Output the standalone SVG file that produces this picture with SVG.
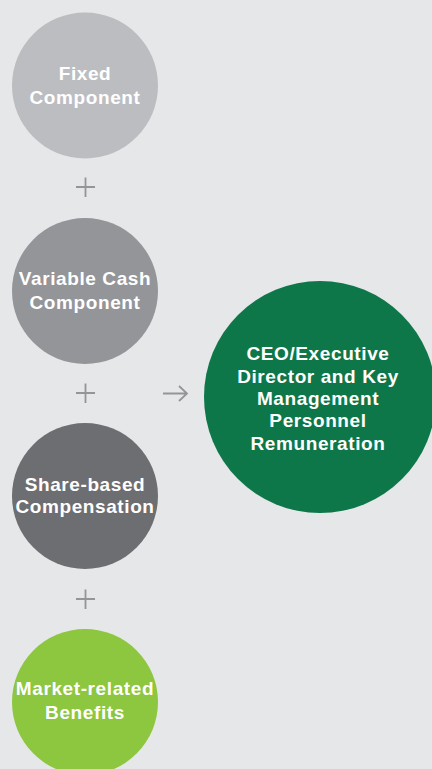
<svg xmlns="http://www.w3.org/2000/svg" width="432" height="769" viewBox="0 0 432 769">
<style>
.t{font-family:"Liberation Sans",Arial,sans-serif;font-weight:bold;font-size:19px;fill:#ffffff;text-anchor:middle;letter-spacing:0.6px}
.op{stroke:#939598;stroke-width:1.8;fill:none}
</style>
<rect width="432" height="769" fill="#e6e7e8"/>
<g id="fixed">
<circle cx="85" cy="85.5" r="73" fill="#bcbdc0"/>
<text class="t" x="85" y="80">Fixed</text>
<text class="t" x="85" y="103.5">Component</text>
</g>
<g id="variable">
<circle cx="85" cy="291" r="73" fill="#939598"/>
<text class="t" x="85" y="284.5">Variable Cash</text>
<text class="t" x="85" y="308.5">Component</text>
</g>
<g id="share">
<circle cx="85" cy="496" r="73" fill="#6d6e71"/>
<text class="t" x="85" y="490.5">Share-based</text>
<text class="t" x="85" y="513">Compensation</text>
</g>
<g id="market">
<circle cx="85" cy="702" r="73" fill="#8dc63f"/>
<text class="t" x="85" y="694.5">Market-related</text>
<text class="t" x="85" y="718.5">Benefits</text>
</g>
<g id="ceo">
<circle cx="320" cy="397" r="116" fill="#0e7749"/>
<text class="t" x="318" y="359.5">CEO/Executive</text>
<text class="t" x="318" y="383">Director and Key</text>
<text class="t" x="318" y="404.5">Management</text>
<text class="t" x="318" y="426.5">Personnel</text>
<text class="t" x="318" y="449.5">Remuneration</text>
</g>
<g id="connectors">
<path class="op" d="M76 187H95M85.5 177.5V197"/>
<path class="op" d="M76 393H95M85.5 383.5V403"/>
<path class="op" d="M76 599H95M85.5 589.5V609"/>
<path class="op" d="M163 393.5H187M179 386L187 393.5L179 401"/>
</g>
</svg>
